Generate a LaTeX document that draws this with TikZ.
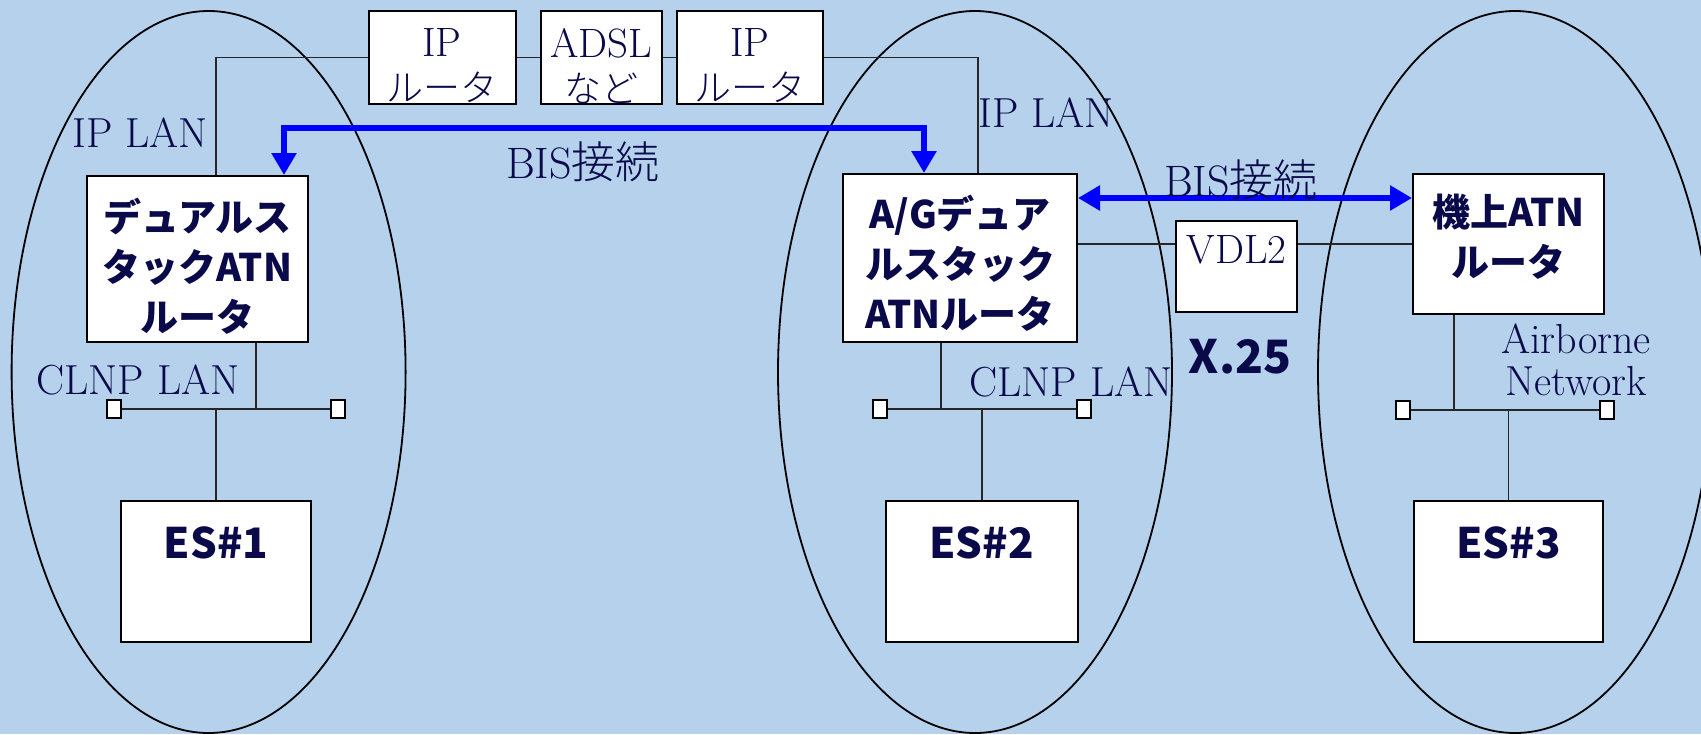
\documentclass[tikz,border=0pt]{standalone}
\usepackage{fontspec}
\newfontfamily\jp{Noto Sans CJK JP}
\IfFontExistsTF{Noto Sans CJK JP Light}{\newfontfamily\jpl{Noto Sans CJK JP Light}}{\newfontfamily\jpl{Noto Sans CJK JP}}
\usetikzlibrary{arrows.meta,calc}
\definecolor{bg}{RGB}{181,209,236}
\definecolor{ink}{RGB}{10,10,75}
\definecolor{bisblue}{RGB}{0,0,255}
\tikzset{
 box/.style={draw=black, line width=1pt, fill=white, inner sep=0pt},
 sq/.style={draw=black, line width=0.7pt, fill=white, inner sep=0pt, minimum width=7pt, minimum height=9pt},
 wire/.style={draw=black!85, line width=0.75pt},
 zone/.style={draw=black, line width=0.9pt},
 bis/.style={draw=bisblue, line width=3.3pt, line join=miter, {Triangle[width=12pt,length=11pt]}-{Triangle[width=12pt,length=11pt]}},
 lbl/.style={text=ink, inner sep=0pt, align=center, font=\fontsize{21}{21}\selectfont},
 bislbl/.style={text=ink, inner sep=0pt, font=\fontsize{22}{22}\selectfont},
 btxt/.style={text=ink, inner sep=0pt, align=center, font=\jp\bfseries\fontsize{19}{25}\selectfont},
 rtxt/.style={text=ink, inner sep=0pt, align=center, font=\fontsize{20.5}{22.5}\selectfont},
 estxt/.style={text=ink, inner sep=0pt, font=\jp\bfseries\fontsize{21}{25}\selectfont},
}
\begin{document}
\begin{tikzpicture}[x=0.5pt,y=-0.5pt]
\useasboundingbox (0,0) rectangle (1701,734);
\fill[bg] (0,0) rectangle (1701,734);
\begin{scope}
\clip (0,0) rectangle (1701,734);
\draw[zone] (208.6,372) ellipse [x radius=197, y radius=361];
\draw[zone] (975,372) ellipse [x radius=197, y radius=361];
\draw[zone] (1515,372) ellipse [x radius=197, y radius=361];
\end{scope}

% boxes
\node[box, minimum width=73.25pt, minimum height=46.5pt] (r1) at (442.25,57.5) {};
\node[box, minimum width=60.5pt, minimum height=46.5pt] (adsl) at (601.5,57.5) {};
\node[box, minimum width=73pt, minimum height=46.5pt] (r2) at (750,57.5) {};
\node[box, minimum width=110.5pt, minimum height=83pt] (dual) at (197.5,259) {};
\node[box, minimum width=117pt, minimum height=84pt] (ag) at (960,258) {};
\node[box, minimum width=60.5pt, minimum height=45.5pt] (vdl) at (1236.5,266.5) {};
\node[box, minimum width=95.5pt, minimum height=70pt] (air) at (1508.5,244) {};
\node[box, minimum width=95pt, minimum height=70.5pt] (es1) at (216,571.5) {};
\node[box, minimum width=95.75pt, minimum height=70.5pt] (es2) at (981.75,571.5) {};
\node[box, minimum width=94.5pt, minimum height=70.5pt] (es3) at (1508.5,571.5) {};

% LAN terminators
\node[sq] (s1l) at (114,409) {};
\node[sq] (s1r) at (338,409) {};
\node[sq] (s2l) at (880,409) {};
\node[sq] (s2r) at (1084,409) {};
\node[sq] (s3l) at (1403,410) {};
\node[sq] (s3r) at (1607,410) {};

% helper coordinates
\coordinate (ipl1) at (216,0);
\coordinate (ipl2) at (978,0);
\coordinate (d1) at (256,0);
\coordinate (d2) at (941,0);
\coordinate (d3) at (1454,0);
\coordinate (link) at (0,244);
\coordinate (bisA) at (284,128);
\coordinate (bisB) at (924,128);
\coordinate (bis2) at (0,198);

% wires
\draw[wire] (r1.west) -| (dual.north -| ipl1);
\draw[wire] (r1.east) -- (adsl.west);
\draw[wire] (adsl.east) -- (r2.west);
\draw[wire] (r2.east) -| (ag.north -| ipl2);
\draw[wire] (ag.east |- link) -- (vdl.west |- link);
\draw[wire] (vdl.east |- link) -- (air.west |- link);
\draw[wire] (s1l.east) -- (s1r.west);
\draw[wire] (s2l.east) -- (s2r.west);
\draw[wire] (s3l.east) -- (s3r.west);
\draw[wire] (dual.south -| d1) -- (s1l -| d1);
\draw[wire] (ag.south -| d2) -- (s2l -| d2);
\draw[wire] (air.south -| d3) -- (s3l -| d3);
\draw[wire] (es1.north) -- (es1.north |- s1l);
\draw[wire] (es2.north) -- (es2.north |- s2l);
\draw[wire] (es3.north) -- (es3.north |- s3l);

% BIS arrows
\draw[bis] (dual.north -| bisA) -- (bisA) -- (bisB) -- (ag.north -| bisB);
\draw[bis] (ag.east |- bis2) -- (air.west |- bis2);

% texts
\node[rtxt] (r1t) at (442,66) {IP\\{\jpl\fontsize{18.5}{22.5}\selectfont ルータ}};
\node[rtxt] (adslt) at (601.5,66) {ADSL\\{\jpl\fontsize{18.5}{22.5}\selectfont など}};
\node[rtxt] (r2t) at (750,66) {IP\\{\jpl\fontsize{18.5}{22.5}\selectfont ルータ}};
\node[btxt] (dualt) at (197.5,266) {デュアルス\\タックATN\\ルータ};
\node[btxt] (agt) at (960,263) {A/Gデュア\\ルスタック\\ATNルータ};
\node[btxt] (airt) at (1508.5,237) {機上ATN\\ルータ};
\node[rtxt] (vdlt) at (1236.5,250) {VDL2};
\node[estxt] (es1t) at (216,543) {ES\#1};
\node[estxt] (es2t) at (981.75,543) {ES\#2};
\node[estxt] (es3t) at (1508.5,543) {ES\#3};
\node[lbl] (ipl1t) at (140,133) {IP LAN};
\node[lbl] (ipl2t) at (1046,113) {IP LAN};
\node[bislbl] (bis1t) at (583,162) {BIS{\jpl 接続}};
\node[bislbl] (bis2t) at (1241,180) {BIS{\jpl 接続}};
\node[lbl] (cl1t) at (138,380) {CLNP LAN};
\node[lbl] (cl2t) at (1071,382) {CLNP LAN};
\node[estxt, font=\jp\bfseries\fontsize{23}{25}\selectfont] (x25t) at (1240,357) {X.25};
\node[lbl] (airnt) at (1576,360) {Airborne\\Network};
\end{tikzpicture}
\end{document}
